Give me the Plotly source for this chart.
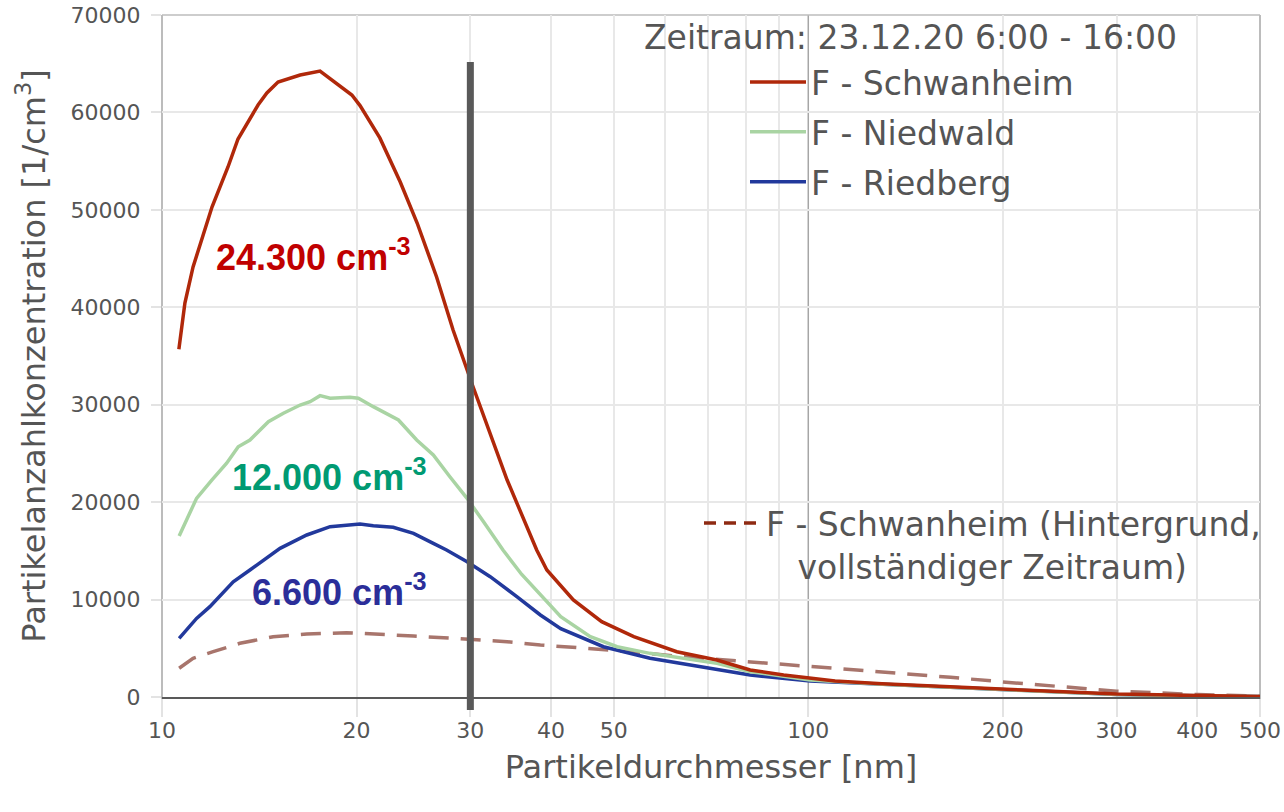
import math
import plotly.graph_objects as go

# ---- data ----
d_schwanheim = [10.62, 10.85, 11.17, 11.95, 12.65, 13.11, 14.08, 14.53, 15.12, 16.36, 17.56, 18.73,
                19.67, 20.25, 20.99, 21.73, 23.37, 24.82, 26.6, 28.21, 30.3, 34.2, 38.0, 39.4, 43.3,
                47.9, 53.7, 62.6, 72.2, 81.3, 91.6, 100.7, 110, 130, 166, 200, 250, 300, 400, 500]
v_schwanheim = [35700, 40440, 44140, 50290, 54400, 57270, 60760, 62000, 63120, 63840, 64250, 62820,
                61790, 60700, 59020, 57380, 52860, 48650, 43110, 37670, 31820, 22270, 15090, 13040, 9960,
                7730, 6190, 4650, 3800, 2770, 2260, 1920, 1650, 1350, 1060, 800, 500, 300, 150, 50]

d_niedwald = [10.63, 10.92, 11.31, 11.94, 12.59, 13.12, 13.68, 14.61, 15.41, 16.36, 16.95, 17.56, 18.2,
              19.54, 20.13, 21.23, 23.22, 24.78, 26.29, 27.89, 29.65, 31.5, 33.7, 36.0, 38.5, 41.4,
              46.0, 50.6, 56.9, 64.1, 72.2, 81.3, 91.6, 100.7, 130, 166, 200, 250, 300, 400, 500]
v_niedwald = [16530, 18170, 20390, 22270, 23990, 25690, 26380, 28260, 29120, 29970, 30310, 30930, 30660,
              30760, 30660, 29800, 28430, 26380, 24840, 22610, 20390, 17900, 15090, 12600, 10500, 8240,
              6190, 5160, 4480, 3970, 3450, 2600, 2080, 1740, 1300, 1000, 750, 450, 250, 120, 40]

d_riedberg = [10.63, 11.31, 11.86, 12.89, 13.68, 15.23, 16.75, 18.2, 20.25, 21.23, 22.79, 24.5, 26.29,
              27.56, 29.65, 32.2, 35.4, 38.5, 41.4, 48.2, 56.9, 67.8, 81.3, 100.7, 130, 166, 200, 250,
              300, 400, 500]
v_riedberg = [6020, 8070, 9270, 11830, 13040, 15260, 16630, 17480, 17760, 17580, 17420, 16800, 15770,
              15090, 13890, 12350, 10300, 8420, 7010, 5160, 3970, 3110, 2260, 1640, 1300, 1000, 750, 450,
              250, 120, 40]

d_hintergrund = [10.63, 11.17, 12.0, 13.2, 14.86, 16.75, 19.3, 21.73, 24.5, 28.2, 34.2, 38.5, 49.4,
                 64.1, 81.3, 100.7, 166, 200, 250, 300, 400, 500]
v_hintergrund = [2950, 3970, 4650, 5510, 6190, 6470, 6600, 6470, 6260, 6020, 5680, 5340, 4820,
                 4140, 3620, 3110, 2020, 1550, 1000, 600, 250, 80]

x_tickvals = [10, 20, 30, 40, 50, 100, 200, 300, 400, 500]
x_ticktext = ["10", "20", "30", "40", "50", "100", "200", "300", "400", "500"]
x_minor_grid = [20, 30, 40, 50, 60, 70, 80, 90, 200, 300, 400]
y_tickvals = [0, 10000, 20000, 30000, 40000, 50000, 60000, 70000]
y_ticktext = ["0", "10000", "20000", "30000", "40000", "50000", "60000", "70000"]

names = ["F - Schwanheim", "F - Niedwald", "F - Riedberg"]
name_bg = "F - Schwanheim (Hintergrund,<br>\u00a0\u00a0\u00a0vollständiger Zeitraum)"
title_text = "Zeitraum: 23.12.20 6:00 - 16:00"
totals = ["24.300 cm<sup>-3</sup>", "12.000 cm<sup>-3</sup>", "6.600 cm<sup>-3</sup>"]
marker_d = 30
grid_major_d = 100

# ---- styles ----
c_red = "#B0280A"
c_green = "#A9D4A3"
c_blue = "#22399C"
c_bg = "#A8756C"
c_bg_legend = "#8E2A12"
txt = "#555555"
FONT = "DejaVu Sans"

fig = go.Figure()

fig.add_trace(go.Scatter(x=d_hintergrund, y=v_hintergrund, mode="lines", showlegend=False,
                         legendgroup="z", line=dict(color=c_bg, width=3.5, dash="20px,12px")))
fig.add_trace(go.Scatter(x=d_riedberg, y=v_riedberg, mode="lines", name=names[2], legendgroup="c",
                         legendrank=3, line=dict(color=c_blue, width=3.5)))
fig.add_trace(go.Scatter(x=d_niedwald, y=v_niedwald, mode="lines", name=names[1], legendgroup="b",
                         legendrank=2, line=dict(color=c_green, width=3.5)))
fig.add_trace(go.Scatter(x=d_schwanheim, y=v_schwanheim, mode="lines", name=names[0], legendgroup="a",
                         legendrank=1, line=dict(color=c_red, width=3.5)))
# legend entry for the background series (darker sample, as in the original)
fig.add_trace(go.Scatter(x=[None], y=[None], mode="lines", name=name_bg, legend="legend2",
                         line=dict(color=c_bg_legend, width=3.5, dash="12px,8px")))

# page geometry of the plot area
L, R, T, B = 162, 1260, 15, 697
W, H = R - L, B - T
FIG_W, FIG_H = 1284, 812


def px(p):
    return (p - L) / W


def py(p):
    return (B - p) / H


shapes = [
    dict(type="line", xref="x", yref="paper", x0=grid_major_d, x1=grid_major_d, y0=-0.027, y1=1,
         line=dict(color="#A6A6A6", width=1.5), layer="below"),
    dict(type="line", xref="paper", yref="paper", x0=0, x1=0, y0=-0.027, y1=1,
         line=dict(color="#A6A6A6", width=1.5), layer="below"),
    dict(type="line", xref="paper", yref="paper", x0=1, x1=1, y0=-0.027, y1=1,
         line=dict(color="#A6A6A6", width=1.5), layer="below"),
    dict(type="line", xref="paper", yref="paper", x0=0, x1=1, y0=1, y1=1,
         line=dict(color="#BDBDBD", width=1.5), layer="below"),
    dict(type="line", xref="x", yref="paper", x0=marker_d, x1=marker_d, y0=-0.019, y1=0.931,
         line=dict(color="#595959", width=7), layer="above"),
]

annotations = [
    dict(text=title_text, xref="paper", yref="paper", x=px(642), y=py(38), xanchor="left",
         yanchor="middle", showarrow=False, font=dict(family=FONT, size=33, color=txt)),
    dict(text="<b>" + totals[0] + "</b>", xref="paper", yref="paper", x=px(213.5), y=py(255),
         xanchor="left", yanchor="middle", showarrow=False,
         font=dict(family="Liberation Sans", size=36, color="#C00000")),
    dict(text="<b>" + totals[1] + "</b>", xref="paper", yref="paper", x=px(230), y=py(475),
         xanchor="left", yanchor="middle", showarrow=False,
         font=dict(family="Liberation Sans", size=36, color="#009A72")),
    dict(text="<b>" + totals[2] + "</b>", xref="paper", yref="paper", x=px(250), y=py(590),
         xanchor="left", yanchor="middle", showarrow=False,
         font=dict(family="Liberation Sans", size=36, color="#2B2E99")),
]

fig.update_layout(
    width=FIG_W, height=FIG_H,
    margin=dict(l=L, r=FIG_W - R, t=T, b=FIG_H - B, autoexpand=False),
    paper_bgcolor="white", plot_bgcolor="white",
    font=dict(family=FONT, color=txt),
    shapes=shapes, annotations=annotations,
    legend=dict(x=px(745), y=py(54), xanchor="left", yanchor="top", bgcolor="rgba(0,0,0,0)",
                font=dict(family=FONT, size=33, color=txt), itemwidth=56,
                traceorder="grouped", tracegroupgap=4),
    legend2=dict(x=px(699), y=py(495), xanchor="left", yanchor="top", bgcolor="rgba(0,0,0,0)",
                 font=dict(family=FONT, size=33, color=txt), itemwidth=57, valign="top"),
    xaxis=dict(type="log", range=[1, math.log10(500)], tickvals=x_tickvals, ticktext=x_ticktext,
               showgrid=False, ticks="outside", ticklen=18, tickcolor="#E3E3E3", tickwidth=1.5,
               tickfont=dict(family=FONT, size=22, color=txt), ticklabelstandoff=-5,
               ticklabeloverflow="allow",
               showline=True, linecolor="#595959", linewidth=2, zeroline=False, automargin=False,
               minor=dict(tickvals=x_minor_grid, showgrid=True, gridcolor="#E8E8E8", gridwidth=1.5,
                          ticks=""),
               title=dict(text="Partikeldurchmesser [nm]", font=dict(family=FONT, size=32, color=txt),
                          standoff=13)),
    yaxis=dict(range=[0, 70000], tickvals=y_tickvals, ticktext=y_ticktext, showgrid=True,
               gridcolor="#E8E8E8", gridwidth=2,
               ticks="outside", ticklen=10, tickcolor="#E3E3E3", tickwidth=1.5,
               tickfont=dict(family=FONT, size=22, color=txt), ticklabelstandoff=6,
               ticklabeloverflow="allow",
               showline=False, zeroline=False, automargin=False,
               title=dict(text="Partikelanzahlkonzentration [1/cm<sup>3</sup>]",
                          font=dict(family=FONT, size=32, color=txt), standoff=15)),
)

fig.write_html("out.html", config={"displayModeBar": False},
               post_script="document.body.style.margin='0';")
